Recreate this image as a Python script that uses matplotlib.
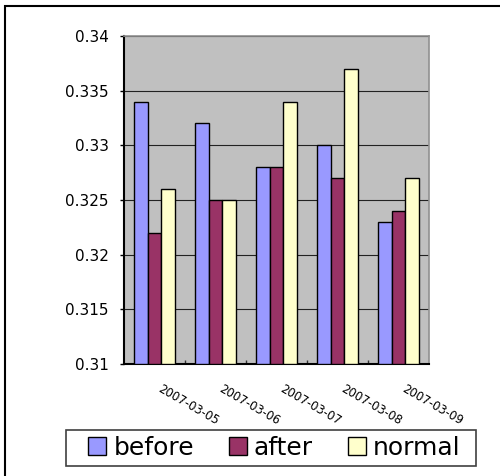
import numpy as np
import matplotlib
matplotlib.use("Agg")
import matplotlib.pyplot as plt
from matplotlib.patches import Rectangle
from matplotlib.transforms import ScaledTranslation

dates = ['2007-03-05', '2007-03-06', '2007-03-07', '2007-03-08', '2007-03-09']
before = [0.334, 0.332, 0.328, 0.330, 0.323]
after = [0.322, 0.325, 0.328, 0.327, 0.324]
normal = [0.326, 0.325, 0.334, 0.337, 0.327]
series_names = ['before', 'after', 'normal']
series_colors = ['#9999FF', '#993366', '#FFFFCC']

fig = plt.figure(figsize=(5.0, 4.76), dpi=100)
ax = fig.add_axes([0.248, 0.2353, 0.61, 0.6891])
ax.set_facecolor('#C0C0C0')

x = np.arange(len(dates))
w = 1 / 4.5
for k, (vals, name, col) in enumerate(zip([before, after, normal], series_names, series_colors)):
    ax.bar(x + (k - 1) * w, np.array(vals) - 0.31, w, bottom=0.31, color=col,
           edgecolor='black', linewidth=1.0, label=name, zorder=3)

ax.set_xlim(-0.5, len(dates) - 0.5)
ax.set_ylim(0.31, 0.34)
yt = np.arange(0.31, 0.3401, 0.005)
ax.set_yticks(yt)
ax.set_yticklabels(['%g' % round(v, 3) for v in yt], fontsize=11)
ax.tick_params(axis='y', direction='out', length=3, width=1, pad=8, color='black')
ax.grid(axis='y', color='#222222', linewidth=0.8, zorder=1)
ax.set_axisbelow(True)

ax.set_xticks(x)
ax.set_xticklabels(dates, fontsize=8.5, rotation=-30, ha='left', va='top',
                   rotation_mode='anchor')
ax.tick_params(axis='x', which='major', length=0, pad=13)
ax.set_xticks(np.arange(0.5, len(dates) - 0.5, 1), minor=True)
ax.tick_params(axis='x', which='minor', direction='in', length=3, width=1, color='#333333')
shift = ScaledTranslation(8 / 100, 0, fig.dpi_scale_trans)
for lab in ax.get_xticklabels():
    lab.set_transform(lab.get_transform() + shift)

for side in ['left', 'bottom']:
    ax.spines[side].set_color('black')
    ax.spines[side].set_linewidth(1.5)
for side in ['top', 'right']:
    ax.spines[side].set_color('#909090')
    ax.spines[side].set_linewidth(1.2)

# legend box drawn separately, entries laid out inside it
fig.patches.append(Rectangle((66 / 500, 10 / 476), 410 / 500, 36 / 476,
                             transform=fig.transFigure, facecolor='white',
                             edgecolor='#404040', linewidth=1.2))
handles, labels = ax.get_legend_handles_labels()
fig.legend(handles, labels, loc='center', bbox_to_anchor=(274.5 / 500, 28 / 476),
           ncol=3, frameon=False, fontsize=18, handlelength=0.72, handleheight=0.72,
           handletextpad=0.28, columnspacing=1.4, borderpad=0, borderaxespad=0)

# outer chart border
fig.patches.append(Rectangle((5 / 500, -0.1), 1.2, 1.1 - 6 / 476,
                             transform=fig.transFigure, fill=False,
                             edgecolor='black', linewidth=1.5))

fig.savefig('out.png', dpi=100)
